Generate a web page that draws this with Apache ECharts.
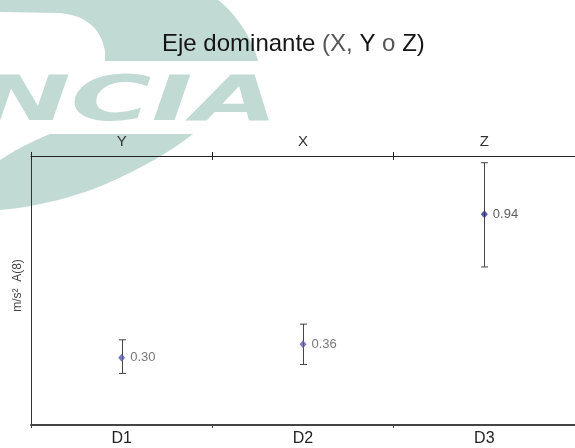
<!DOCTYPE html>
<html>
<head>
<meta charset="utf-8">
<script src="https://cdn.jsdelivr.net/npm/echarts@6/dist/echarts.min.js"></script>
<style>
  html, body { margin: 0; padding: 0; background: #ffffff; }
  #chart { width: 575px; height: 448px; }
</style>
</head>
<body>
<div id="chart"></div>
<script>
// Dosimeters on the bottom axis and the dominant axis for each one on top
const dosimeters = ['D1', 'D2', 'D3'];
const dominantAxes = ['Y', 'X', 'Z'];
// A(8) vibration exposure in m/s² with its lower / upper bound
const a8Values = [0.30, 0.36, 0.94];
const a8Low = [0.23, 0.27, 0.705];
const a8High = [0.38, 0.45, 1.17];

const chart = echarts.init(document.getElementById('chart'), null, { renderer: 'canvas' });

const teal = '#c2dad4';
const pointColors = ['#5b5baa', '#5b5baa', '#2f2f8c'];
const labelColors = ['#555555', '#555555', '#333333'];

// Outline built from straight and cubic segments, flattened to points
function outline(start, segs) {
  const pts = [start];
  let p = start;
  segs.forEach(function (s) {
    if (s.length === 1) { pts.push(s[0]); p = s[0]; return; }
    const c1 = s[0], c2 = s[1], e = s[2];
    for (let k = 1; k <= 16; k++) {
      const t = k / 16, u = 1 - t;
      pts.push([
        u * u * u * p[0] + 3 * u * u * t * c1[0] + 3 * u * t * t * c2[0] + t * t * t * e[0],
        u * u * u * p[1] + 3 * u * u * t * c1[1] + 3 * u * t * t * c2[1] + t * t * t * e[1]
      ]);
    }
    p = e;
  });
  return pts;
}

const upperSwoosh = outline([0, 0], [
  [[218, 0]],
  [[232, 10], [252, 36], [258, 61]],
  [[105, 61]],
  [[105, 52]],
  [[102, 32], [90, 16], [60, 13]],
  [[0, 12]]
]);
const lowerSwoosh = outline([50, 134], [
  [[193, 134]],
  [[170, 152], [130, 176], [85, 192]],
  [[55, 202], [25, 208], [0, 210]],
  [[0, 160]],
  [[12, 152], [30, 142], [50, 134]]
]);

const pointData = a8Values.map((v, i) => ({
  value: [i, v],
  itemStyle: { color: pointColors[i] },
  label: { color: labelColors[i] }
}));
const barData = a8Values.map((v, i) => [i, a8Low[i], a8High[i]]);

const font = '"Liberation Sans", Arial, sans-serif';

const option = {
  backgroundColor: '#ffffff',
  animation: false,
  graphic: {
    elements: [
      {
        type: 'polygon', z: -10, silent: true,
        shape: { points: upperSwoosh },
        style: { fill: teal }
      },
      {
        type: 'text', z: -10, silent: true,
        x: 278, y: 135,
        scaleX: 1.78, originX: 0, originY: 0,
        style: {
          text: 'NCIA',
          font: 'italic 900 62px "DejaVu Sans"',
          fill: teal,
          align: 'right',
          verticalAlign: 'bottom'
        }
      },
      {
        type: 'polygon', z: -10, silent: true,
        shape: { points: lowerSwoosh },
        style: { fill: teal }
      }
    ]
  },
  title: {
    left: 157,
    top: 27,
    text: '{a|Eje dominante }{b|(X, }{a|Y}{b| o }{a|Z)}',
    textStyle: {
      rich: {
        a: { fontFamily: font, fontSize: 24, fontWeight: 'normal', color: '#151515' },
        b: { fontFamily: font, fontSize: 24, fontWeight: 'normal', color: '#555555' }
      }
    }
  },
  grid: { left: 31, right: -2, top: 156, bottom: 23, containLabel: false },
  xAxis: [
    {
      type: 'category',
      position: 'bottom',
      data: dosimeters,
      boundaryGap: true,
      axisLine: { show: true, lineStyle: { color: '#444444', width: 2 } },
      axisTick: { show: true, length: 3, lineStyle: { color: '#444444' } },
      axisLabel: { show: true, margin: 6, fontSize: 16, color: '#222222', fontFamily: font },
      splitLine: { show: false }
    },
    {
      type: 'category',
      position: 'top',
      data: dominantAxes,
      boundaryGap: true,
      axisLine: { show: true, lineStyle: { color: '#222222', width: 1 } },
      axisTick: { show: true, length: 4, lineStyle: { color: '#222222' } },
      axisLabel: { show: true, margin: 7, fontSize: 15, color: '#333333', fontFamily: font },
      splitLine: { show: false }
    },
    {
      type: 'category',
      position: 'top',
      data: dominantAxes,
      boundaryGap: true,
      axisLine: { show: false },
      axisTick: { show: true, inside: true, length: 4, lineStyle: { color: '#222222' } },
      axisLabel: { show: false },
      splitLine: { show: false }
    }
  ],
  yAxis: {
    type: 'value',
    min: 0,
    max: 1.2,
    name: 'm/s²  A(8)',
    nameLocation: 'middle',
    nameRotate: 90,
    nameGap: 7,
    nameTextStyle: { fontSize: 12, color: '#444444', fontFamily: font, padding: [0, 0, 0, 10] },
    axisLine: { show: true, lineStyle: { color: '#333333', width: 1 } },
    axisTick: { show: false },
    axisLabel: { show: false },
    splitLine: { show: false }
  },
  series: [
    {
      type: 'custom',
      xAxisIndex: 0,
      data: barData,
      z: 3,
      renderItem: function (params, api) {
        const i = api.value(0);
        const lo = api.coord([i, api.value(1)]);
        const hi = api.coord([i, api.value(2)]);
        const x = Math.round(lo[0]) + 0.5;
        const cap = 3.5;
        const style = { stroke: '#444444', lineWidth: 1 };
        return {
          type: 'group',
          children: [
            { type: 'line', shape: { x1: x, y1: lo[1], x2: x, y2: hi[1] }, style: style },
            { type: 'line', shape: { x1: x - cap, y1: lo[1], x2: x + cap, y2: lo[1] }, style: style },
            { type: 'line', shape: { x1: x - cap, y1: hi[1], x2: x + cap, y2: hi[1] }, style: style }
          ]
        };
      }
    },
    {
      type: 'scatter',
      xAxisIndex: 0,
      data: pointData,
      symbol: 'diamond',
      symbolSize: [7, 8],
      z: 4,
      label: {
        show: true,
        position: 'right',
        distance: 5,
        fontSize: 13,
        fontFamily: font,
        formatter: function (p) { return p.value[1].toFixed(2); }
      }
    }
  ]
};

chart.setOption(option);
</script>
</body>
</html>
